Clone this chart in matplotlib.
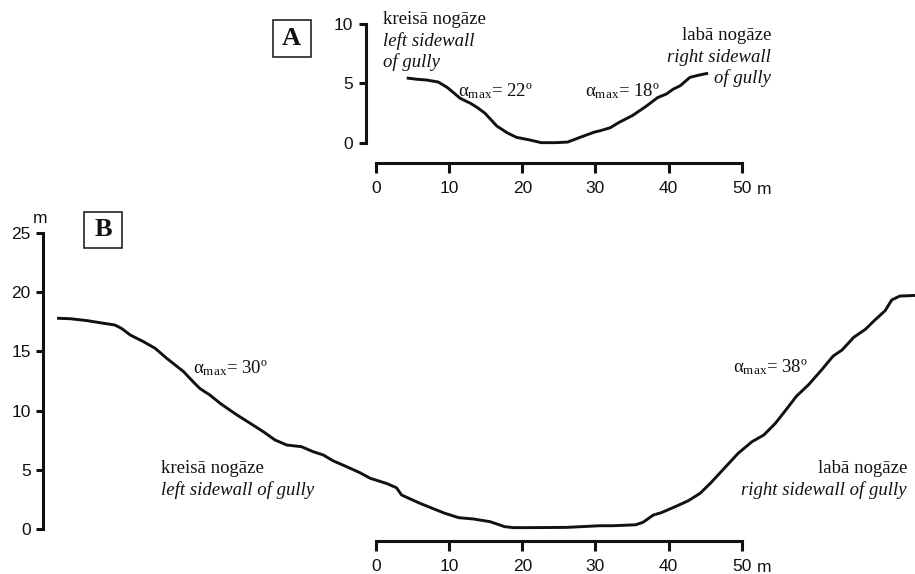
import matplotlib.pyplot as plt
from matplotlib.patches import Rectangle

plt.rcParams['font.family'] = ['Liberation Sans', 'DejaVu Sans']
plt.rcParams['mathtext.fontset'] = 'custom'
plt.rcParams['mathtext.rm'] = 'Liberation Serif'
plt.rcParams['mathtext.it'] = 'Liberation Serif:italic'

# profile A: distance (m), height (m)
dist_a = [4.2, 5.6, 6.9, 8.5, 9.7, 10.6, 11.5, 12.9, 13.8, 14.9, 16.5, 17.9, 19.2,
          21.0, 22.6, 24.5, 26.2, 27.9, 29.8, 30.6, 32.0, 33.2, 35.1, 37.0, 38.5,
          39.7, 40.6, 41.6, 42.9, 44.2, 45.4]
elev_a = [5.45, 5.34, 5.28, 5.11, 4.67, 4.21, 3.74, 3.32, 2.98, 2.48, 1.41, 0.84, 0.45,
          0.23, 0.0, 0.0, 0.05, 0.45, 0.88, 1.0, 1.25, 1.7, 2.3, 3.1, 3.8,
          4.1, 4.5, 4.8, 5.5, 5.7, 5.85]

# profile B: distance (m), height (m)
dist_b = [-43.6, -41.8, -39.5, -37.7, -35.7, -34.8, -33.6, -31.8, -30.2, -28.6,
          -26.3, -25.0, -24.1, -22.7, -21.3, -20.0, -19.0, -17.2, -15.4, -13.8,
          -12.2, -10.2, -8.6, -7.2, -5.9, -4.0, -2.2, -0.8, 1.5, 2.8,
          3.5, 6.0, 8.5, 9.4, 11.3, 13.3, 15.6, 17.6, 18.8, 21.0,
          26.0, 30.6, 32.4, 35.5, 36.5, 37.9, 39.0, 41.1, 42.7, 44.3,
          45.7, 47.4, 49.5, 51.4, 53.0, 54.6, 56.2, 57.5, 59.1, 60.9,
          62.5, 63.7, 65.3, 66.9, 68.2, 69.6, 70.5, 71.6, 73.7]
elev_b = [17.78, 17.74, 17.58, 17.4, 17.21, 16.93, 16.37, 15.81, 15.25, 14.4,
          13.28, 12.43, 11.87, 11.31, 10.61, 10.05, 9.63, 8.93, 8.22, 7.52,
          7.10, 6.96, 6.54, 6.26, 5.78, 5.27, 4.77, 4.30, 3.85, 3.5,
          2.89, 2.19, 1.57, 1.35, 0.98, 0.87, 0.64, 0.22, 0.14, 0.14,
          0.16, 0.3, 0.3, 0.38, 0.59, 1.2, 1.4, 1.96, 2.41, 3.03,
          3.87, 5.0, 6.4, 7.38, 7.94, 8.93, 10.19, 11.23, 12.16, 13.42,
          14.6, 15.1, 16.17, 16.85, 17.63, 18.42, 19.32, 19.65, 19.7]

xticks = [0, 10, 20, 30, 40, 50]
yticks_a = [0, 5, 10]
yticks_b = [0, 5, 10, 15, 20, 25]

ink = '#111111'
serif = ['Liberation Serif', 'DejaVu Serif']
fs = 13.5

fig = plt.figure(figsize=(9.15, 5.74), dpi=100)


def profile_axes(ylim, yticks, yaxis_x, xbar_y):
    ax = fig.add_axes([0, 0, 1, 1])
    ax.set_xlim(-51.40, 73.68)
    ax.set_ylim(*ylim)
    ax.patch.set_visible(False)
    ax.spines['top'].set_visible(False)
    ax.spines['right'].set_visible(False)
    ax.spines['left'].set_position(('data', yaxis_x))
    ax.spines['left'].set_bounds(yticks[0], yticks[-1])
    ax.spines['bottom'].set_position(('data', xbar_y))
    ax.spines['bottom'].set_bounds(0, 50)
    for s in ['left', 'bottom']:
        ax.spines[s].set_linewidth(2.2)
        ax.spines[s].set_color(ink)
    ax.set_xticks(xticks)
    ax.set_yticks(yticks)
    ax.tick_params(axis='y', direction='out', length=5, width=2.2, pad=4,
                   labelsize=12.5, colors=ink)
    ax.tick_params(axis='x', direction='out', length=7.5, width=2.2, pad=6,
                   labelsize=12.5, colors=ink)
    ax.annotate('m', xy=(50, xbar_y), xytext=(10.5, -22.5), textcoords='offset points',
                ha='left', va='baseline', fontsize=12.5, color=ink)
    return ax


def panel_box(letter, cx, cy):
    w, h = 38, 36
    fig.add_artist(Rectangle(((cx - w / 2) / 915, 1 - (cy + h / 2) / 574), w / 915, h / 574,
                             transform=fig.transFigure, fill=False, lw=1.1, ec=ink))
    fig.text(cx / 915, 1 - cy / 574, letter, ha='center', va='center',
             family=serif, fontweight='bold', fontsize=19, color=ink)


def slope(ax, x, y, deg):
    ax.text(x, y, 'α$_{\\mathrm{max}}$= ' + deg + 'º', family=serif, fontsize=fs,
            va='baseline', color=ink)


# ---------------- panel A
ax_a = profile_axes((-36.34, 12.02), yticks_a, -1.37, -1.685)
ax_a.plot(dist_a, elev_a, color=ink, lw=2.1, solid_joinstyle='round', solid_capstyle='butt')
ax_a.text(0.96, 10.0, 'kreisā nogāze', family=serif, fontsize=fs, va='baseline', color=ink)
ax_a.text(0.96, 8.15, 'left sidewall', family=serif, style='italic', fontsize=fs,
          va='baseline', color=ink)
ax_a.text(0.96, 6.38, 'of gully', family=serif, style='italic', fontsize=fs,
          va='baseline', color=ink)
slope(ax_a, 11.2, 3.93, '22')
slope(ax_a, 28.6, 3.93, '18')
ax_a.text(54.0, 8.65, 'labā nogāze', family=serif, fontsize=fs, ha='right',
          va='baseline', color=ink)
ax_a.text(54.0, 6.8, 'right sidewall', family=serif, style='italic', fontsize=fs,
          ha='right', va='baseline', color=ink)
ax_a.text(54.0, 5.03, 'of gully', family=serif, style='italic', fontsize=fs,
          ha='right', va='baseline', color=ink)
panel_box('A', 291.5, 38.5)

# ---------------- panel B
ax_b = profile_axes((-3.766, 44.59), yticks_b, -45.48, -0.96)
ax_b.plot(dist_b, elev_b, color=ink, lw=2.1, solid_joinstyle='round', solid_capstyle='butt')
ax_b.annotate('m', xy=(-45.48, 25), xytext=(-2, 10), textcoords='offset points',
              ha='center', va='center', fontsize=12.5, color=ink)
slope(ax_b, -25.06, 13.14, '30')
slope(ax_b, 48.85, 13.19, '38')
ax_b.text(-29.39, 4.74, 'kreisā nogāze', family=serif, fontsize=fs, va='baseline', color=ink)
ax_b.text(-29.39, 2.89, 'left sidewall of gully', family=serif, style='italic',
          fontsize=fs, va='baseline', color=ink)
ax_b.text(72.6, 4.71, 'labā nogāze', family=serif, fontsize=fs, ha='right',
          va='baseline', color=ink)
ax_b.text(72.6, 2.89, 'right sidewall of gully', family=serif, style='italic',
          fontsize=fs, ha='right', va='baseline', color=ink)
panel_box('B', 103, 229.5)

fig.savefig('out.png', dpi=100)
